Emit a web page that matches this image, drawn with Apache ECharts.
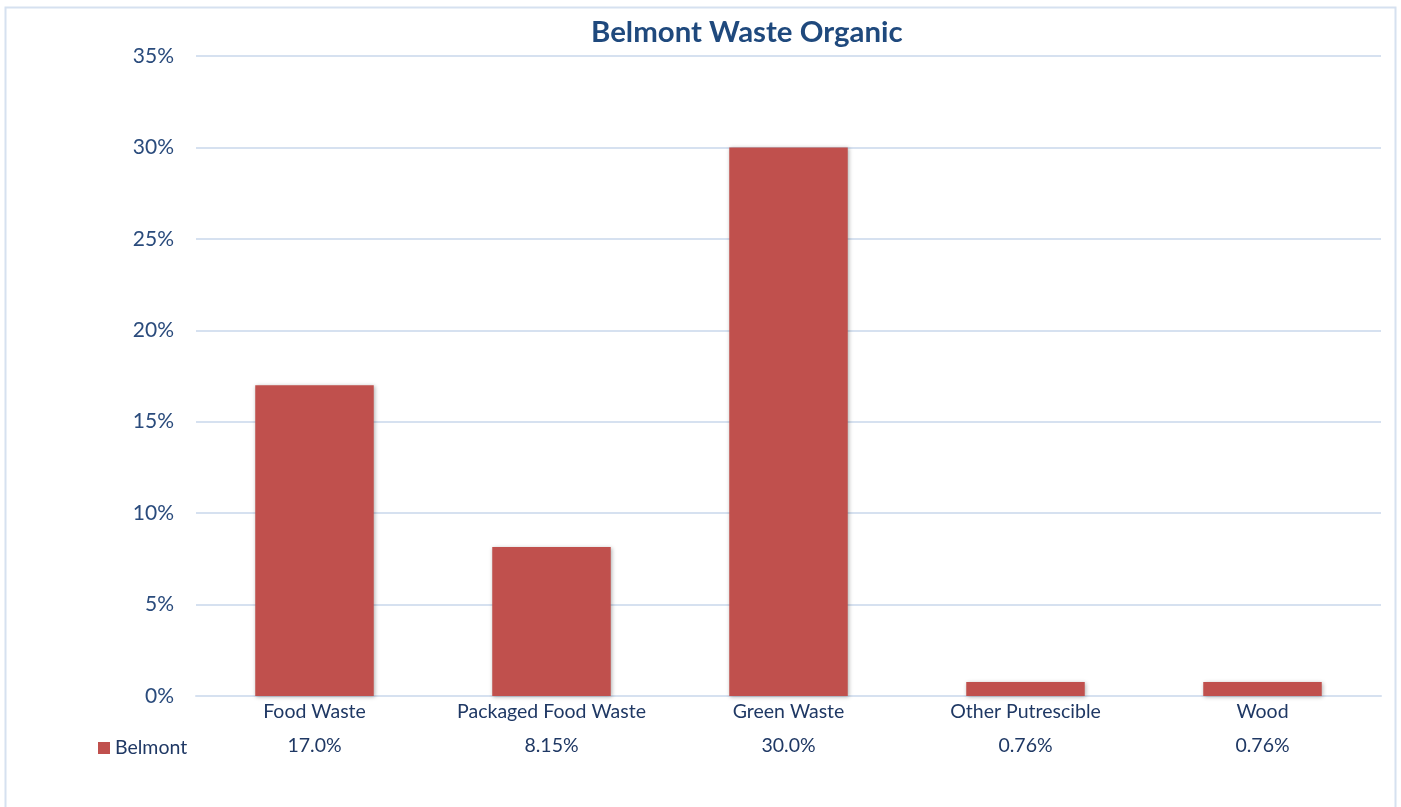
<!DOCTYPE html>
<html>
<head>
<meta charset="utf-8">
<script src="https://cdn.jsdelivr.net/npm/echarts@6/dist/echarts.min.js"></script>
<style>
html,body{margin:0;padding:0;background:#fff;}
#chart{width:1401px;height:807px;}
</style>
</head>
<body>
<div id="chart"></div>
<script>
const titleText = 'Belmont Waste Organic';
const seriesName = 'Belmont';
const categories = ['Food Waste', 'Packaged Food Waste', 'Green Waste', 'Other Putrescible', 'Wood'];
const values = [17.0, 8.15, 30.0, 0.76, 0.76];
const valueLabels = ['17.0%', '8.15%', '30.0%', '0.76%', '0.76%'];
const yTicks = [0, 5, 10, 15, 20, 25, 30, 35];

const FONT = 'Lato';
const chart = echarts.init(document.getElementById('chart'));
chart.setOption({
  animation: false,
  backgroundColor: '#ffffff',
  title: {
    text: titleText,
    left: 586,
    top: 13,
    textStyle: { fontFamily: FONT, fontSize: 29.4, fontWeight: 'bold', color: '#1F497D' }
  },
  legend: {
    data: [seriesName],
    left: 93,
    top: 733,
    icon: 'rect',
    itemWidth: 12,
    itemHeight: 12,
    itemGap: 5,
    textStyle: { fontFamily: FONT, fontSize: 19.5, color: '#1F3864', padding: [0, 0, 0, 0] }
  },
  graphic: [{
    type: 'rect',
    shape: { x: 5.5, y: 7.5, width: 1390, height: 820 },
    style: { fill: 'none', stroke: '#D6E1F0', lineWidth: 2 },
    silent: true
  }],
  grid: { left: 196, right: 20, top: 56, bottom: 111, containLabel: false },
  xAxis: {
    type: 'category',
    data: categories,
    axisLine: { show: true, lineStyle: { color: '#D6E1F0', width: 2 } },
    axisTick: { show: false },
    axisLabel: {
      interval: 0,
      margin: 0,
      formatter: function (v, i) { return '{c|' + v + '}\n{v|' + valueLabels[i] + '}'; },
      rich: {
        c: { fontFamily: FONT, fontSize: 19.5, color: '#1F3864', lineHeight: 32 },
        v: { fontFamily: FONT, fontSize: 19.5, color: '#1F3864', lineHeight: 36 }
      }
    }
  },
  yAxis: {
    type: 'value',
    min: yTicks[0],
    max: yTicks[yTicks.length - 1],
    interval: 5,
    axisLine: { show: false },
    axisTick: { show: false },
    splitLine: { lineStyle: { color: '#D6E1F0', width: 2 } },
    axisLabel: {
      margin: 22,
      fontFamily: FONT,
      fontSize: 21,
      color: '#2A4B7C',
      formatter: function (v) { return v + '%'; }
    }
  },
  series: [{
    name: seriesName,
    type: 'bar',
    data: values,
    barWidth: '50%',
    itemStyle: {
      color: '#C0504D',
      shadowColor: 'rgba(0,0,0,0.3)',
      shadowBlur: 4,
      shadowOffsetX: 1,
      shadowOffsetY: 1
    }
  }]
});
</script>
</body>
</html>
